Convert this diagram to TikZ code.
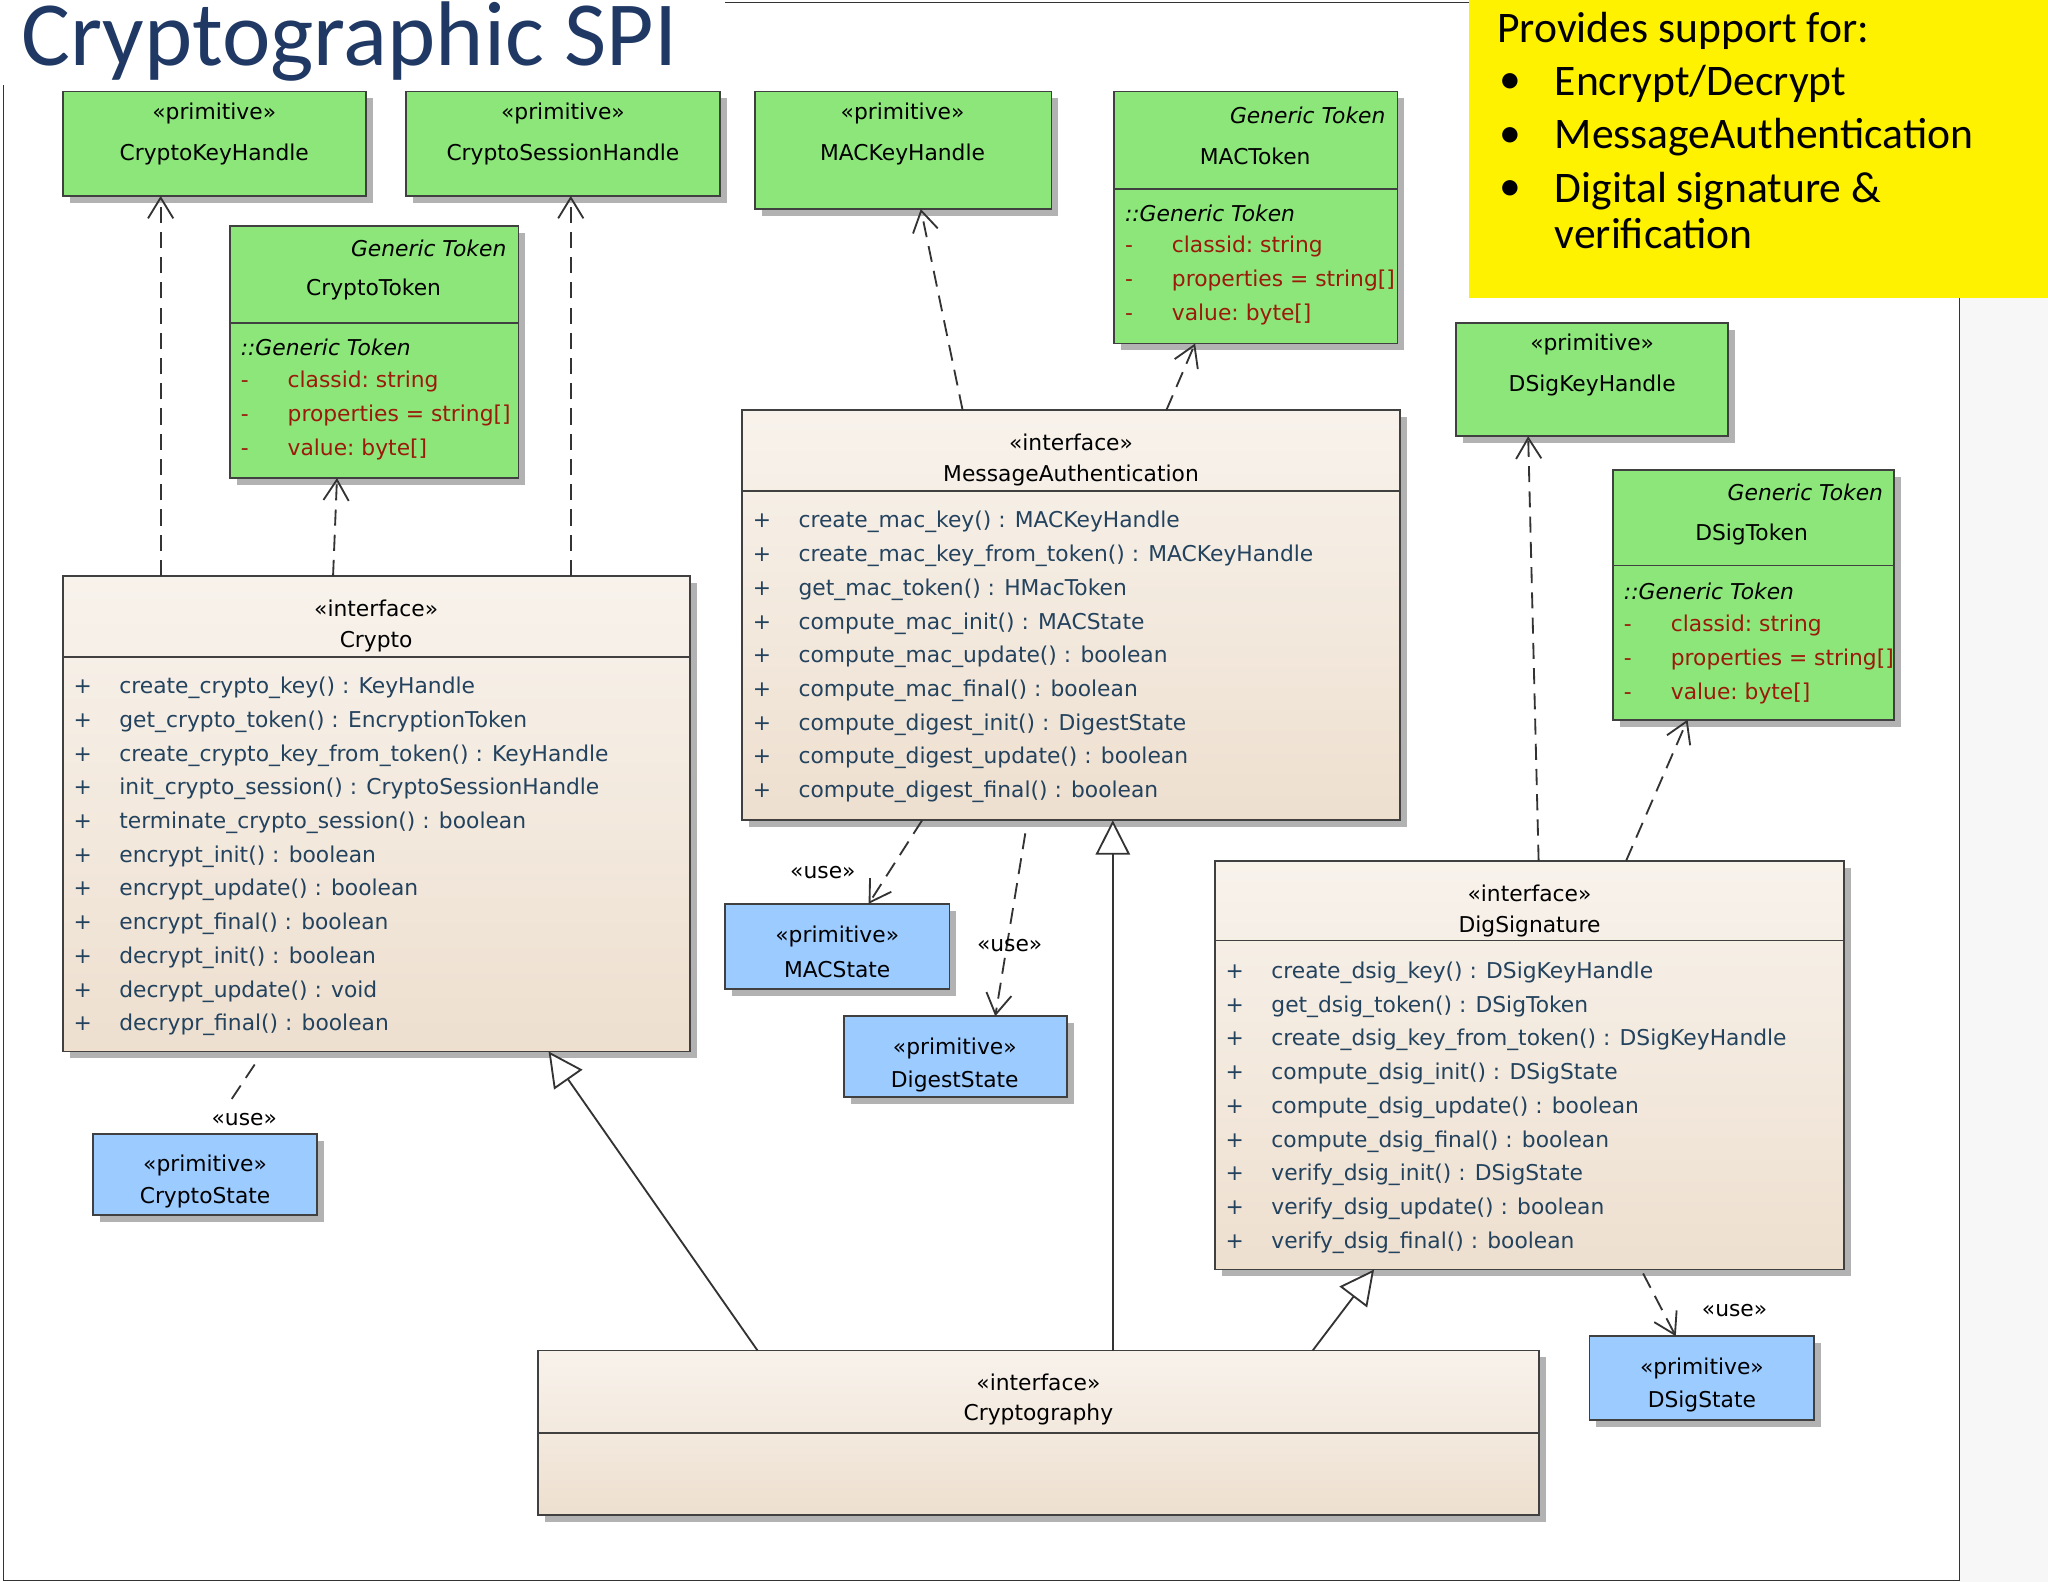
\documentclass[tikz,border=0pt]{standalone}
\usepackage{fontspec}
\setmainfont{DejaVu Sans}
\newfontfamily\calibri{Carlito}
\usetikzlibrary{arrows.meta,fit,shadows}
\definecolor{umlgreen}{HTML}{8CE67A}
\definecolor{umlblue}{HTML}{9CCBFF}
\definecolor{umlbeige}{HTML}{F3EADF}
\definecolor{attrred}{HTML}{9A1B0A}
\definecolor{opblue}{HTML}{23425E}
\definecolor{titleblue}{HTML}{1F3864}
\tikzset{
  box/.style={draw=black!75, thick, inner sep=0pt, drop shadow={shadow xshift=3pt, shadow yshift=-3pt, fill=black!30, opacity=1}},
  gbox/.style={box, fill=umlgreen},
  bbox/.style={box, fill=umlblue},
  ibox/.style={box, top color=umlbeige!60, bottom color=umlbeige!90!brown},
  txt/.style={font=\fontsize{9.5}{14}\selectfont, inner sep=0pt},
  attr/.style={txt, text=attrred, anchor=west},
  op/.style={txt, text=opblue, anchor=west},
  note/.style={anchor=west, inner sep=0pt, font=\calibri\fontsize{19}{22}\selectfont},
  dep/.style={dash pattern=on 7pt off 4pt, thick, black!80, -{Straight Barb[length=9pt,width=11pt]}},
  gen/.style={thick, black!80, -{Triangle[open,length=15pt,width=15pt,fill=white]}},
}
\begin{document}
\begin{tikzpicture}[x=0.02cm, y=-0.02cm]
	\useasboundingbox (0,0) rectangle (1568,1211);
	\fill[white] (0,0) rectangle (1568,1211);
	\fill[black!3] (1500,228) rectangle (1568,1211);
	\draw[black!80] (555,2) -- (1125,2);
	\draw[black!80] (1500,228) -- (1500,1210) -- (3,1210) -- (3,65);
	
	% title and note
	\node[anchor=west, inner sep=0pt, text=titleblue, font=\calibri\fontsize{40}{44}\selectfont] (title) at (16,32) {Cryptographic SPI};
	\fill[yellow] (1125,0) rectangle (1568,228);
	\node[note] (n0) at (1146,24) {Provides support for:};
	\node[note] (b1) at (1148,64) {\textbullet};
	\node[note] (n1) at (1190,64) {Encrypt/Decrypt};
	\node[note] (b2) at (1148,105) {\textbullet};
	\node[note] (n2) at (1190,105) {MessageAuthentication};
	\node[note] (b3) at (1148,146) {\textbullet};
	\node[note] (n3) at (1190,146) {Digital signature \&};
	\node[note] (n4) at (1190,179) {verification};
	
	% primitive handles
	\node[gbox, fit={(48,70)(280,150)}] (ckh) {};
	\node[txt] at (164,87) {«primitive»};
	\node[txt] at (164,118) {CryptoKeyHandle};
	\node[gbox, fit={(311,70)(551,150)}] (csh) {};
	\node[txt] at (431,87) {«primitive»};
	\node[txt] at (431,118) {CryptoSessionHandle};
	\node[gbox, fit={(578,70)(805,160)}] (mkh) {};
	\node[txt] at (691,87) {«primitive»};
	\node[txt] at (691,118) {MACKeyHandle};
	\node[gbox, fit={(1115,247)(1323,334)}] (dkh) {};
	\node[txt] at (1219,264) {«primitive»};
	\node[txt] at (1219,295) {DSigKeyHandle};
	
	% tokens
	\node[gbox, fit={(176,173)(397,366)}] (ctok) {};
	\draw[black!75, thick] (176,247) -- (397,247);
	\node[txt, anchor=east] at (388,190) {\itshape Generic Token};
	\node[txt] at (286,222) {CryptoToken};
	\node[txt, anchor=west, font=\fontsize{9.5}{14}\selectfont\itshape] at (184,266) {::Generic Token};
	\node[attr] at (184,292) {-\hspace{17pt}classid:\ string};
	\node[attr] at (184,318) {-\hspace{17pt}properties = string[]};
	\node[attr] at (184,344) {-\hspace{17pt}value:\ byte[]};
	
	\node[gbox, fit={(853,70)(1070,263)}] (mtok) {};
	\draw[black!75, thick] (853,145) -- (1070,145);
	\node[txt, anchor=east] at (1061,88) {\itshape Generic Token};
	\node[txt] at (961,120) {MACToken};
	\node[txt, anchor=west, font=\fontsize{9.5}{14}\selectfont\itshape] at (861,163) {::Generic Token};
	\node[attr] at (861,189) {-\hspace{17pt}classid:\ string};
	\node[attr] at (861,215) {-\hspace{17pt}properties = string[]};
	\node[attr] at (861,241) {-\hspace{17pt}value:\ byte[]};
	
	\node[gbox, fit={(1235,360)(1450,551)}] (dtok) {};
	\draw[black!75, thick] (1235,433) -- (1450,433);
	\node[txt, anchor=east] at (1442,377) {\itshape Generic Token};
	\node[txt] at (1341,409) {DSigToken};
	\node[txt, anchor=west, font=\fontsize{9.5}{14}\selectfont\itshape] at (1243,453) {::Generic Token};
	\node[attr] at (1243,479) {-\hspace{17pt}classid:\ string};
	\node[attr] at (1243,505) {-\hspace{17pt}properties = string[]};
	\node[attr] at (1243,531) {-\hspace{17pt}value:\ byte[]};
	
	% interfaces
	\node[ibox, fit={(568,314)(1072,628)}] (mac) {};
	\draw[black!75, thick] (568,376) -- (1072,376);
	\node[txt] at (820,339) {«interface»};
	\node[txt] at (820,364) {MessageAuthentication};
	\foreach \t [count=\i] in {create\_mac\_key() : MACKeyHandle, create\_mac\_key\_from\_token() : MACKeyHandle, get\_mac\_token() : HMacToken, compute\_mac\_init() : MACState, compute\_mac\_update() : boolean, compute\_mac\_final() : boolean, compute\_digest\_init() : DigestState, compute\_digest\_update() : boolean, compute\_digest\_final() : boolean}
		\node[op] at (576,{374+25.8*\i}) {+\hspace{12pt}\t};
	
	\node[ibox, fit={(48,441)(528,805)}] (crypto) {};
	\draw[black!75, thick] (48,503) -- (528,503);
	\node[txt] at (288,466) {«interface»};
	\node[txt] at (288,491) {Crypto};
	\foreach \t [count=\i] in {create\_crypto\_key() : KeyHandle, get\_crypto\_token() : EncryptionToken, create\_crypto\_key\_from\_token() : KeyHandle, init\_crypto\_session() : CryptoSessionHandle, terminate\_crypto\_session() : boolean, encrypt\_init() : boolean, encrypt\_update() : boolean, encrypt\_final() : boolean, decrypt\_init() : boolean, decrypt\_update() : void, decrypr\_final() : boolean}
		\node[op] at (56,{501+25.8*\i}) {+\hspace{12pt}\t};
	
	\node[ibox, fit={(930,659)(1412,972)}] (dsig) {};
	\draw[black!75, thick] (930,720) -- (1412,720);
	\node[txt] at (1171,684) {«interface»};
	\node[txt] at (1171,709) {DigSignature};
	\foreach \t [count=\i] in {create\_dsig\_key() : DSigKeyHandle, get\_dsig\_token() : DSigToken, create\_dsig\_key\_from\_token() : DSigKeyHandle, compute\_dsig\_init() : DSigState, compute\_dsig\_update() : boolean, compute\_dsig\_final() : boolean, verify\_dsig\_init() : DSigState, verify\_dsig\_update() : boolean, verify\_dsig\_final() : boolean}
		\node[op] at (938,{719+25.8*\i}) {+\hspace{12pt}\t};
	
	\node[ibox, fit={(412,1034)(1178,1160)}] (cgr) {};
	\draw[black!75, thick] (412,1097) -- (1178,1097);
	\node[txt] at (795,1058) {«interface»};
	\node[txt] at (795,1083) {Cryptography};
	
	% states
	\node[bbox, fit={(555,692)(727,757)}] (mst) {};
	\node[txt] at (641,717) {«primitive»};
	\node[txt] at (641,742) {MACState};
	\node[bbox, fit={(646,778)(817,840)}] (dst) {};
	\node[txt] at (731,803) {«primitive»};
	\node[txt] at (731,828) {DigestState};
	\node[bbox, fit={(71,868)(243,930)}] (cst) {};
	\node[txt] at (157,892) {«primitive»};
	\node[txt] at (157,917) {CryptoState};
	\node[bbox, fit={(1217,1023)(1389,1087)}] (sst) {};
	\node[txt] at (1303,1048) {«primitive»};
	\node[txt] at (1303,1073) {DSigState};
	
	% connector ends
	\coordinate (c1) at (123,441); \coordinate (k1) at (123,150);
	\coordinate (c2) at (437,441); \coordinate (k2) at (437,150);
	\coordinate (c3) at (255,441); \coordinate (k3) at (258,366);
	\coordinate (m1) at (737,314); \coordinate (k4) at (705,160);
	\coordinate (m2) at (893,314); \coordinate (k5) at (915,263);
	\coordinate (d1) at (1178,659); \coordinate (k6) at (1170,334);
	\coordinate (d2) at (1245,659); \coordinate (k7) at (1292,551);
	\coordinate (m3) at (706,628); \coordinate (u1) at (665,692);
	\coordinate (m4) at (785,638); \coordinate (u2) at (762,778);
	\coordinate (c4) at (195,815); \coordinate (u3) at (175,845);
	\coordinate (d3) at (1258,975); \coordinate (u4) at (1283,1023);
	\coordinate (g1) at (580,1034); \coordinate (t1) at (420,805);
	\coordinate (g2) at (852,1034); \coordinate (t2) at (852,628);
	\coordinate (g3) at (1005,1034); \coordinate (t3) at (1052,972);
	
	\draw[dep] (c1) -- (k1);
	\draw[dep] (c2) -- (k2);
	\draw[dep] (c3) -- (k3);
	\draw[dep] (m1) -- (k4);
	\draw[dep] (m2) -- (k5);
	\draw[dep] (d1) -- (k6);
	\draw[dep] (d2) -- (k7);
	\draw[dep] (m3) -- (u1);
	\draw[dep] (m4) -- (u2);
	\draw[dash pattern=on 7pt off 4pt, thick, black!80] (c4) -- (u3);
	\draw[dep] (d3) -- (u4);
	\node[txt] at (630,668) {«use»};
	\node[txt] at (773,724) {«use»};
	\node[txt] at (187,857) {«use»};
	\node[txt] at (1328,1003) {«use»};
	
	\draw[gen] (g1) -- (t1);
	\draw[gen] (g2) -- (t2);
	\draw[gen] (g3) -- (t3);
	
\end{tikzpicture}
\end{document}
